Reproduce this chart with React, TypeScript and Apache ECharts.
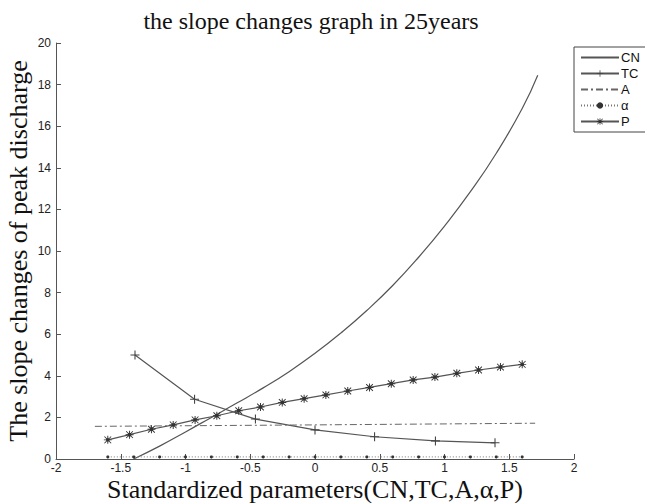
import React, { useEffect, useRef } from "react";
import * as echarts from "echarts";

// ---- data ----
const titleText = "the slope changes graph in 25years";
const xAxisName = "Standardized parameters(CN,TC,A,\u03b1,P)";
const yAxisName = "The slope changes of peak discharge";

const cnX = [-1.4, -1.2, -1.0, -0.8, -0.6, -0.4, -0.2, 0, 0.2, 0.4, 0.6, 0.8, 1.0, 1.2, 1.4, 1.6, 1.72];
const cnY = [0, 0.62, 1.3, 2.0, 2.7, 3.42, 4.2, 5.08, 6.06, 7.14, 8.34, 9.7, 11.2, 12.85, 14.7, 16.85, 18.45];

const tcX = [-1.39, -0.93, -0.46, 0, 0.46, 0.93, 1.39];
const tcY = [5.0, 2.87, 1.92, 1.4, 1.07, 0.87, 0.78];

const aX = [-1.7, 0, 1.7];
const aY = [1.57, 1.64, 1.72];

const alphaX = [-1.6, -1.4, -1.2, -1.0, -0.8, -0.6, -0.4, -0.2, 0, 0.2, 0.4, 0.6, 0.8, 1.0, 1.2, 1.4, 1.6];
const alphaY = [0.1, 0.1, 0.1, 0.1, 0.1, 0.1, 0.1, 0.1, 0.1, 0.1, 0.1, 0.1, 0.1, 0.1, 0.1, 0.1, 0.1];

const pX = [-1.6, -1.432, -1.263, -1.095, -0.926, -0.758, -0.589, -0.421, -0.253, -0.084, 0.084, 0.253, 0.421, 0.589, 0.758, 0.926, 1.095, 1.263, 1.432, 1.6];
const pY = [0.92, 1.17, 1.43, 1.64, 1.88, 2.08, 2.32, 2.5, 2.72, 2.9, 3.08, 3.27, 3.44, 3.62, 3.8, 3.94, 4.12, 4.28, 4.42, 4.55];

const seriesNames = ["CN", "TC", "A", "\u03b1", "P"];

const xMin = -2;
const xMax = 2;
const xInterval = 0.5;
const yMin = 0;
const yMax = 20;
const yInterval = 2;

const zip = (xs: number[], ys: number[]) => xs.map((x, i) => [x, ys[i]]);

const PLUS = "path://M4.4,0H5.6V4.4H10V5.6H5.6V10H4.4V5.6H0V4.4H4.4Z";
const STAR =
  "path://M0,4.4L10,4.4L10,5.6L0,5.6Z M4.4,0L5.6,0L5.6,10L4.4,10Z M1.2,0.4L9.6,8.8L8.8,9.6L0.4,1.2Z M8.8,0.4L9.6,1.2L1.2,9.6L0.4,8.8Z M5,2.6A2.4,2.4 0 1 1 4.99,2.6Z";

const axisColor = "#555";
const lineColor = "#555";

export default function App() {
  const ref = useRef<HTMLDivElement>(null);
  useEffect(() => {
    if (!ref.current) return;
    const chart = echarts.init(ref.current, undefined, { renderer: "svg" });
    const tickLabel = { color: "#222", fontSize: 12, fontFamily: "Liberation Sans" };
    const hiddenSymbol = { opacity: 0 };
    chart.setOption({
      animation: false,
      backgroundColor: "#fff",
      graphic: [
        {
          type: "text",
          x: 311,
          y: 21,
          style: {
            text: titleText,
            font: '24px "Liberation Serif"',
            fill: "#111",
            align: "center",
            verticalAlign: "middle",
          },
        },
      ],
      legend: {
        orient: "vertical",
        left: 574,
        top: 47,
        padding: [4, 9, 4, 6],
        itemWidth: 38,
        itemHeight: 8,
        itemGap: 3,
        borderColor: "#444",
        borderWidth: 1,
        textStyle: { color: "#111", fontSize: 13, fontFamily: "Liberation Sans", padding: [0, 0, 0, -3] },
        data: [
          { name: "CN", itemStyle: hiddenSymbol },
          { name: "TC" },
          { name: "A", itemStyle: hiddenSymbol },
          { name: "\u03b1" },
          { name: "P" },
        ],
      },
      grid: {
        left: 56,
        right: 71,
        top: 43,
        bottom: 44,
        containLabel: false,
        outerBoundsMode: "none",
      },
      xAxis: {
        type: "value",
        min: xMin,
        max: xMax,
        interval: xInterval,
        axisLine: { onZero: false, lineStyle: { color: axisColor } },
        axisTick: { inside: true, length: 5, lineStyle: { color: axisColor } },
        axisLabel: { ...tickLabel, margin: 3 },
        splitLine: { show: false },
        name: xAxisName,
        nameLocation: "middle",
        nameMoveOverlap: false,
        nameGap: 18,
        nameTextStyle: { fontFamily: "Liberation Serif", fontSize: 26, lineHeight: 24, color: "#111" },
      },
      yAxis: {
        type: "value",
        min: yMin,
        max: yMax,
        interval: yInterval,
        axisLine: { show: true, onZero: false, lineStyle: { color: axisColor } },
        axisTick: { show: true, inside: true, length: 5, lineStyle: { color: axisColor } },
        axisLabel: { ...tickLabel, margin: 5 },
        splitLine: { show: false },
        name: yAxisName,
        nameLocation: "middle",
        nameMoveOverlap: false,
        nameRotate: 90,
        nameGap: 25,
        nameTextStyle: { fontFamily: "Liberation Serif", fontSize: 26, color: "#111" },
      },
      series: [
        {
          name: "CN",
          type: "line",
          data: zip(cnX, cnY),
          smooth: true,
          symbol: "none",
          lineStyle: { color: lineColor, width: 1.2 },
          itemStyle: { color: lineColor },
        },
        {
          name: "TC",
          type: "line",
          data: zip(tcX, tcY),
          symbol: PLUS,
          symbolSize: 9,
          lineStyle: { color: lineColor, width: 1.2 },
          itemStyle: { color: "#444" },
        },
        {
          name: "A",
          type: "line",
          data: zip(aX, aY),
          symbol: "none",
          lineStyle: { color: "#666", width: 1, type: [7, 3, 2, 3] },
          itemStyle: { color: "#666" },
        },
        {
          name: "\u03b1",
          type: "line",
          data: zip(alphaX, alphaY),
          symbol: "circle",
          symbolSize: 3,
          lineStyle: { color: "#777", width: 1, type: [1, 2] },
          itemStyle: { color: "#333" },
        },
        {
          name: "P",
          type: "line",
          data: zip(pX, pY),
          symbol: STAR,
          symbolSize: 8,
          lineStyle: { color: lineColor, width: 1.2 },
          itemStyle: { color: "#333" },
        },
      ],
    });
    return () => chart.dispose();
  }, []);
  return (
    <div
      ref={ref}
      style={{ position: "fixed", left: 0, top: 0, width: 645, height: 503, background: "#fff" }}
    />
  );
}
